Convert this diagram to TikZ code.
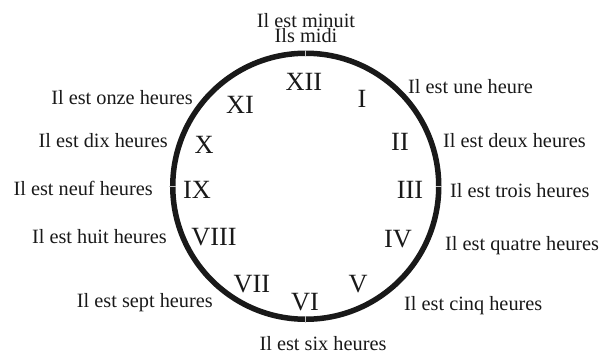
\documentclass[tikz,border=0pt]{standalone}
\usepackage{fontspec}
\setmainfont{Liberation Serif}
\usetikzlibrary{positioning, calc}

\begin{document}
\begin{tikzpicture}[
    x=1pt, y=-1pt,
    numeral/.style={inner sep=0pt, font=\fontsize{26.3}{28}\selectfont, text=black!90},
    phrase/.style={inner sep=0pt, font=\fontsize{20.3}{22}\selectfont, text=black!90},
    dial/.style={draw=black!90, line width=5.5pt},
    tick/.style={draw=gray!45, line width=0.6pt}
]
    \useasboundingbox (0,0) rectangle (616,356);

    % Dial
    \coordinate (c) at (305.75,186.25);
    \draw[dial] (c) circle[radius=133];
    \draw[tick] ($(c)+(0,-130)$) -- ($(c)+(0,-136.5)$);
    \draw[tick] ($(c)+(0,130)$) -- ($(c)+(0,136.5)$);
    \draw[tick] ($(c)+(130,0)$) -- ($(c)+(136.5,0)$);
    \draw[tick] ($(c)+(-130,0)$) -- ($(c)+(-136.5,0)$);

    % Hour numerals
    \node[numeral, anchor=base] (h12) at (304,90) {XII};
    \node[numeral, anchor=base] (h1) at (362,107) {I};
    \node[numeral, anchor=base] (h2) at (400,150) {II};
    \node[numeral, anchor=base] (h3) at (410,198) {III};
    \node[numeral, anchor=base] (h4) at (398,247) {IV};
    \node[numeral, anchor=base] (h5) at (358,292) {V};
    \node[numeral, anchor=base] (h6) at (305,310) {VI};
    \node[numeral, anchor=base] (h7) at (252,292) {VII};
    \node[numeral, anchor=base] (h8) at (214,245) {VIII};
    \node[numeral, anchor=base] (h9) at (197,198) {IX};
    \node[numeral, anchor=base] (h10) at (204,153) {X};
    \node[numeral, anchor=base] (h11) at (240,113) {XI};

    % Spoken hours
    \node[phrase, anchor=base, align=center, font=\fontsize{20.3}{15}\selectfont] (t12) at (306,42) {Il est minuit\\Ils midi};
    \node[phrase, anchor=base west] (t1) at (408,93) {Il est une heure};
    \node[phrase, anchor=base west] (t2) at (443,147) {Il est deux heures};
    \node[phrase, anchor=base west] (t3) at (450,197) {Il est trois heures};
    \node[phrase, anchor=base west] (t4) at (445,250) {Il est quatre heures};
    \node[phrase, anchor=base west] (t5) at (404,310) {Il est cinq heures};
    \node[phrase, anchor=base] (t6) at (323,350) {Il est six heures};
    \node[phrase, anchor=base east] (t7) at (213,307) {Il est sept heures};
    \node[phrase, anchor=base east] (t8) at (167,243) {Il est huit heures};
    \node[phrase, anchor=base east] (t9) at (153,195) {Il est neuf heures};
    \node[phrase, anchor=base east] (t10) at (168,147) {Il est dix heures};
    \node[phrase, anchor=base east] (t11) at (193,104) {Il est onze heures};
\end{tikzpicture}
\end{document}
